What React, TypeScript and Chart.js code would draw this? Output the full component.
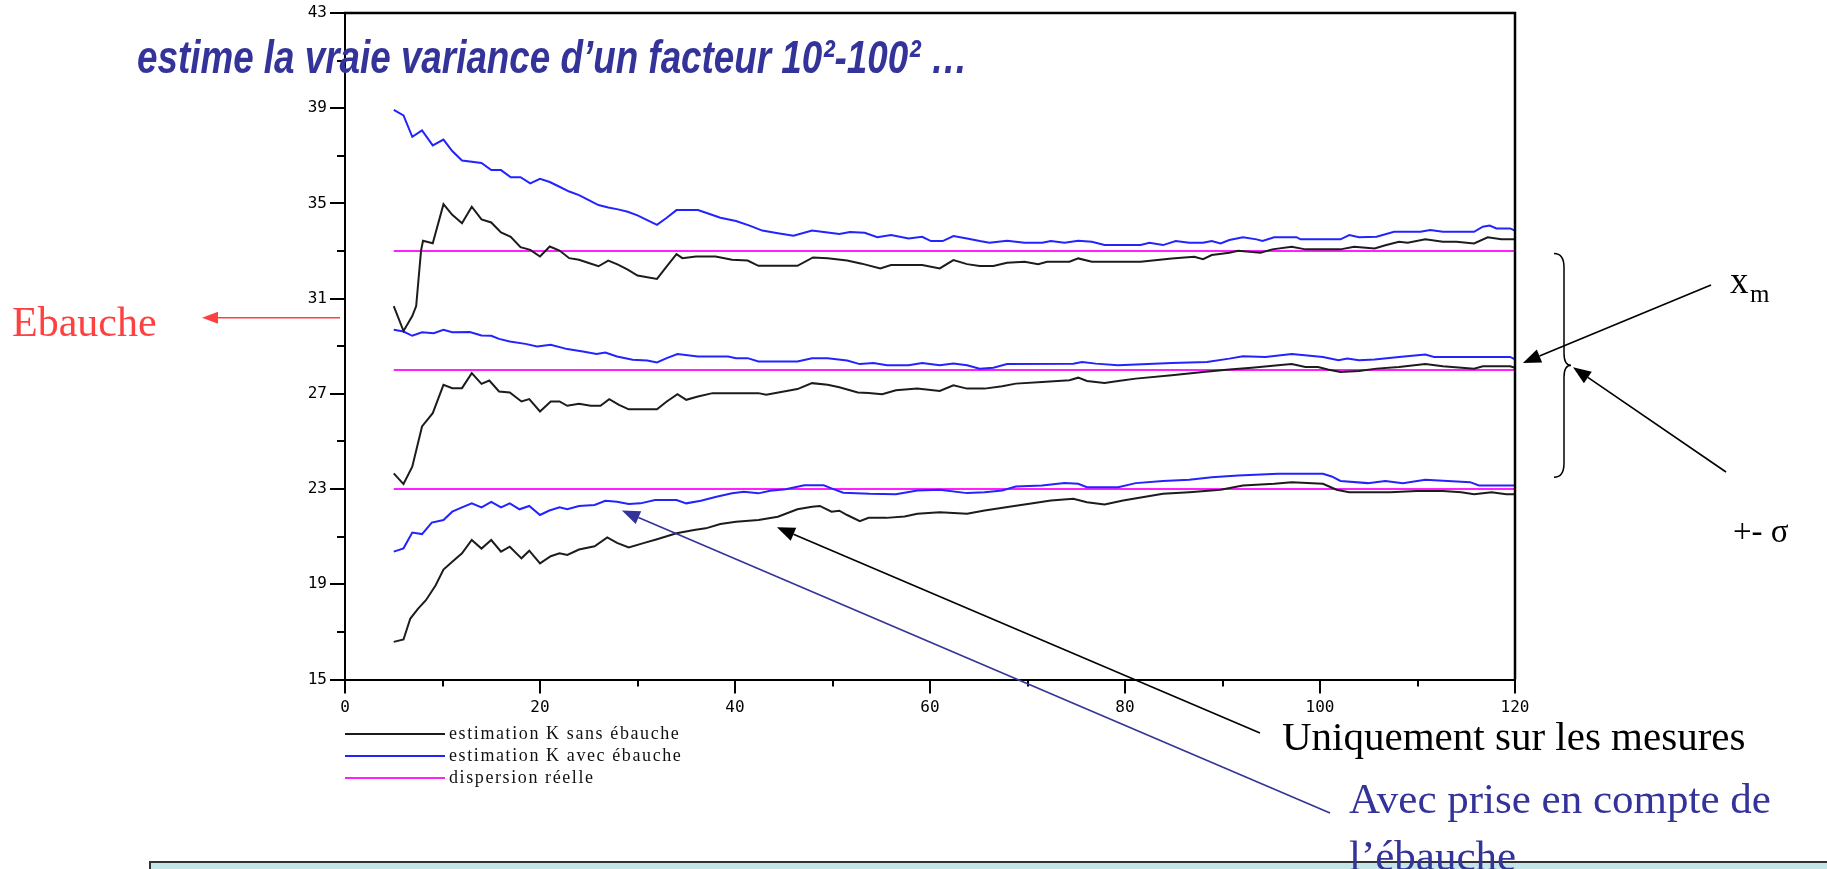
import React, { useEffect, useRef } from "react";
import { Chart, registerables } from "chart.js";

Chart.register(...registerables);

// ---- data: [x, y] pairs ----
const sansUpper: [number, number][] = [
  [5, 30.69], [6, 29.64], [6.9, 30.27], [7.3, 30.69], [7.8, 33.02], [8, 33.43], [9, 33.33], [10.1, 34.97],
  [11, 34.52], [12, 34.17], [13, 34.86], [14, 34.33], [15, 34.2], [16, 33.78], [17, 33.6], [18, 33.16],
  [19, 33.05], [20, 32.77], [21, 33.19], [22, 33.02], [23, 32.7], [24, 32.63], [25, 32.5], [26, 32.36],
  [27, 32.6], [28, 32.43], [29, 32.22], [30, 31.97], [32, 31.83], [33, 32.36], [34, 32.87], [34.6, 32.7],
  [36, 32.77], [38, 32.77], [39.7, 32.63], [41.3, 32.6], [42.4, 32.38], [46.4, 32.38], [48, 32.73],
  [49.5, 32.7], [51.5, 32.6], [53, 32.47], [54.9, 32.27], [56, 32.41], [57.8, 32.41], [59.2, 32.41],
  [61, 32.27], [62.4, 32.62], [63.8, 32.45], [65.1, 32.37], [66.5, 32.37], [67.9, 32.51], [69.7, 32.55],
  [71.1, 32.45], [72, 32.55], [74.3, 32.55], [75.2, 32.69], [76.6, 32.55], [81.6, 32.55], [84.8, 32.69],
  [87.1, 32.76], [88, 32.66], [88.9, 32.83], [90.7, 32.93], [91.6, 33.01], [93.9, 32.93], [95.1, 33.07],
  [97.1, 33.18], [98.5, 33.07], [102.1, 33.07], [103.5, 33.18], [105.6, 33.11], [106.7, 33.24],
  [108.1, 33.39], [109, 33.35], [110.8, 33.49], [112.6, 33.39], [114, 33.39], [115.8, 33.32],
  [117.2, 33.58], [118.6, 33.5], [120, 33.49],
];

const sansMid: [number, number][] = [
  [5, 23.66], [6, 23.21], [6.9, 23.94], [7.9, 25.63], [9, 26.19], [10.1, 27.38], [11, 27.24], [12, 27.24],
  [13, 27.87], [14, 27.42], [14.8, 27.56], [15.8, 27.1], [16.9, 27.06], [18.1, 26.68], [18.9, 26.78],
  [20, 26.26], [21.1, 26.68], [22, 26.68], [22.8, 26.5], [24, 26.58], [25.2, 26.5], [26.2, 26.5],
  [27.1, 26.78], [28.1, 26.54], [29.1, 26.35], [32, 26.35], [33, 26.68], [34.1, 26.99], [35, 26.75],
  [36.2, 26.89], [37.7, 27.03], [42.4, 27.03], [43.2, 26.96], [46.4, 27.2], [47.9, 27.45], [49.5, 27.38],
  [50.7, 27.28], [52.6, 27.06], [53.7, 27.04], [55.1, 26.98], [56.5, 27.15], [58.7, 27.22], [61, 27.12],
  [62.4, 27.36], [63.8, 27.22], [65.6, 27.22], [67.4, 27.32], [68.8, 27.43], [71.5, 27.5], [74.3, 27.57],
  [75.2, 27.68], [76.1, 27.54], [77.9, 27.46], [79.3, 27.54], [81.1, 27.64], [84.8, 27.78], [88, 27.92],
  [90.7, 28.02], [93, 28.1], [95.7, 28.2], [97.1, 28.25], [98.5, 28.13], [99.8, 28.13], [100.8, 28.02],
  [102.1, 27.92], [104, 27.96], [105.8, 28.06], [108.1, 28.13], [110.8, 28.25], [112.6, 28.16],
  [115.8, 28.06], [116.7, 28.16], [119.5, 28.16], [120, 28.1],
];

const sansLow: [number, number][] = [
  [5, 16.58], [6, 16.68], [6.7, 17.56], [7.5, 17.98], [8.3, 18.33], [9.3, 18.96], [10.1, 19.62], [11, 19.95],
  [12, 20.3], [13, 20.86], [14, 20.5], [15, 20.86], [16, 20.37], [16.9, 20.58], [18.1, 20.09], [18.9, 20.41],
  [20, 19.88], [21.1, 20.18], [22, 20.3], [22.8, 20.23], [24, 20.46], [25.6, 20.6], [26.9, 20.97],
  [27.9, 20.74], [29.1, 20.55], [30.7, 20.74], [32, 20.89], [34, 21.14], [35.8, 21.28], [37, 21.35],
  [38.5, 21.53], [40.1, 21.63], [42.4, 21.7], [44.4, 21.84], [46.4, 22.15], [47.9, 22.26], [48.7, 22.29],
  [49.9, 22.05], [50.7, 22.09], [51.5, 21.91], [52.8, 21.65], [53.7, 21.79], [55.5, 21.79], [57.4, 21.85],
  [58.7, 21.96], [61, 22.03], [63.8, 21.96], [65.6, 22.1], [68.3, 22.27], [70.2, 22.38], [72.4, 22.52],
  [74.7, 22.59], [76.1, 22.45], [77.9, 22.35], [79.8, 22.52], [83.9, 22.8], [86.6, 22.87], [89.8, 22.97],
  [92.1, 23.15], [95.3, 23.22], [97.1, 23.29], [100.3, 23.22], [101.7, 22.97], [103, 22.87], [107.2, 22.87],
  [109.9, 22.92], [112.6, 22.92], [114.5, 22.87], [115.8, 22.78], [117.6, 22.87], [119.1, 22.78], [120, 22.78],
];

const avecUpper: [number, number][] = [
  [5, 38.93], [6, 38.7], [6.9, 37.8], [7.9, 38.07], [9, 37.44], [10.1, 37.68], [11, 37.2], [12, 36.8],
  [14, 36.7], [15, 36.4], [16, 36.4], [17, 36.1], [18, 36.1], [19, 35.84], [20, 36.03], [21, 35.9],
  [22, 35.7], [23, 35.5], [24, 35.35], [25, 35.14], [26, 34.93], [27, 34.83], [28, 34.75], [29, 34.65],
  [30, 34.5], [31, 34.3], [32, 34.1], [33, 34.4], [34, 34.72], [36.2, 34.72], [37.1, 34.6], [38.5, 34.4],
  [40.1, 34.26], [41.5, 34.07], [42.8, 33.86], [44.4, 33.75], [46, 33.64], [47.9, 33.86], [49.5, 33.78],
  [50.7, 33.72], [51.8, 33.8], [53.3, 33.77], [54.6, 33.58], [56, 33.67], [57.8, 33.53], [59.2, 33.6],
  [60.1, 33.42], [61.3, 33.42], [62.4, 33.63], [63.8, 33.53], [65.1, 33.42], [66.1, 33.35], [67.9, 33.43],
  [69.7, 33.35], [71.5, 33.35], [72.4, 33.42], [73.8, 33.35], [75.2, 33.43], [76.6, 33.39], [77.9, 33.25],
  [81.6, 33.25], [82.5, 33.35], [83.9, 33.25], [85.2, 33.42], [86.6, 33.35], [88, 33.35], [88.9, 33.42],
  [89.8, 33.32], [90.7, 33.46], [92.1, 33.58], [93.5, 33.49], [94.1, 33.42], [95.3, 33.58], [97.6, 33.58],
  [98, 33.49], [102.1, 33.49], [103, 33.67], [104, 33.58], [105.8, 33.6], [107.6, 33.81], [110.3, 33.81],
  [111.3, 33.88], [112.6, 33.81], [115.8, 33.81], [116.7, 34.02], [117.4, 34.07], [118.1, 33.95],
  [119.5, 33.95], [120, 33.86],
];

const avecMid: [number, number][] = [
  [5, 29.69], [6, 29.62], [6.9, 29.44], [7.9, 29.59], [9.1, 29.55], [10.1, 29.69], [11, 29.59], [12.8, 29.6],
  [14, 29.45], [15, 29.44], [15.8, 29.31], [16.9, 29.2], [18.5, 29.1], [19.7, 28.99], [21.1, 29.06],
  [22.8, 28.88], [24.4, 28.78], [25.8, 28.68], [26.7, 28.74], [27.9, 28.57], [29.5, 28.43], [31, 28.4],
  [32, 28.32], [33, 28.5], [34.1, 28.67], [36.2, 28.57], [39.3, 28.57], [40.1, 28.5], [41.3, 28.5],
  [42.4, 28.36], [46.4, 28.36], [47.9, 28.5], [49.5, 28.5], [51.5, 28.4], [52.8, 28.25], [54.2, 28.3],
  [55.6, 28.2], [57.8, 28.2], [59.2, 28.3], [61, 28.2], [62.4, 28.27], [63.8, 28.2], [65.1, 28.06],
  [66.5, 28.1], [67.9, 28.25], [74.7, 28.27], [75.6, 28.34], [77, 28.27], [79.3, 28.2], [84.8, 28.3],
  [88.4, 28.34], [90.7, 28.48], [92.1, 28.58], [94.4, 28.55], [97.1, 28.67], [100.3, 28.55], [101.9, 28.41],
  [102.8, 28.48], [104, 28.41], [105.6, 28.44], [108.1, 28.55], [110.8, 28.65], [111.7, 28.55],
  [119.5, 28.55], [120, 28.45],
];

const avecLow: [number, number][] = [
  [5, 20.37], [6, 20.51], [6.9, 21.17], [7.9, 21.11], [8.9, 21.59], [10.1, 21.7], [11, 22.05], [12, 22.23],
  [13, 22.4], [14, 22.23], [15, 22.46], [16, 22.23], [16.9, 22.4], [17.9, 22.15], [18.9, 22.29], [20, 21.91],
  [20.9, 22.09], [22, 22.23], [22.8, 22.15], [24, 22.29], [25.6, 22.33], [26.7, 22.51], [27.9, 22.47],
  [29.1, 22.37], [30.3, 22.4], [31.8, 22.54], [34, 22.54], [35, 22.4], [36.5, 22.51], [38.1, 22.68],
  [39.7, 22.82], [40.9, 22.89], [42.4, 22.82], [43.6, 22.93], [45.2, 22.99], [47.1, 23.16], [49.1, 23.16],
  [49.9, 23.03], [51.1, 22.85], [53.8, 22.8], [56.5, 22.78], [58.7, 22.94], [61, 22.97], [63.8, 22.83],
  [65.6, 22.87], [67.4, 22.94], [68.8, 23.11], [71.5, 23.15], [73.8, 23.25], [75.2, 23.22], [76.1, 23.08],
  [79.3, 23.08], [81.1, 23.25], [83.9, 23.34], [86.6, 23.39], [88.9, 23.5], [91.6, 23.57], [95.7, 23.64],
  [100.3, 23.64], [101.2, 23.53], [102.1, 23.34], [104.9, 23.25], [106.7, 23.34], [108.5, 23.25],
  [110.8, 23.39], [113.1, 23.34], [115.4, 23.29], [116.3, 23.15], [120, 23.15],
];

const reelleLevels = [33, 28, 23];
const reelleRange = [5, 120];

const legendLabels = ["estimation K sans ébauche", "estimation K avec ébauche", "dispersion réelle"];
const seriesColors = ["#1c1c1c", "#2323ff", "#ff1fff"];

const xTickValues = [0, 20, 40, 60, 80, 100, 120];
const yTickValues = [15, 19, 23, 27, 31, 35, 39, 43];
const xMinorTicks = [10, 30, 50, 70, 90, 110];
const yMinorTicks = [17, 21, 25, 29, 33, 37, 41];

// annotation anchor values (data space)
const ebaucheValue = 30.2;
const xmTarget = [120.6, 28.3];
const braceRange = [32.9, 28.2, 23.5];
const sansArrowTarget = [44.3, 21.4];
const avecArrowTarget = [28.4, 22.1];

const toPts = (arr: [number, number][]) => arr.map(([x, y]) => ({ x, y }));

function arrow(ctx: CanvasRenderingContext2D, x1: number, y1: number, x2: number, y2: number,
  color: string, lw: number, headLen = 18, headW = 7) {
  const ang = Math.atan2(y2 - y1, x2 - x1);
  const bx = x2 - headLen * Math.cos(ang);
  const by = y2 - headLen * Math.sin(ang);
  ctx.strokeStyle = color;
  ctx.fillStyle = color;
  ctx.lineWidth = lw;
  ctx.beginPath();
  ctx.moveTo(x1, y1);
  ctx.lineTo(bx, by);
  ctx.stroke();
  ctx.beginPath();
  ctx.moveTo(x2, y2);
  ctx.lineTo(bx + headW * Math.sin(ang), by - headW * Math.cos(ang));
  ctx.lineTo(bx - headW * Math.sin(ang), by + headW * Math.cos(ang));
  ctx.closePath();
  ctx.fill();
}

const decorPlugin = {
  id: "decor",
  afterDraw(chart: any) {
    const { ctx, chartArea: a, scales } = chart;
    const xs = scales.x;
    const ys = scales.y;
    ctx.save();
    // frame top & right
    ctx.strokeStyle = "#000";
    ctx.lineWidth = 2.5;
    ctx.beginPath();
    ctx.moveTo(a.left - 1, a.top);
    ctx.lineTo(a.right, a.top);
    ctx.lineTo(a.right, a.bottom);
    ctx.stroke();
    // minor ticks
    ctx.lineWidth = 2;
    for (const v of yMinorTicks) {
      const py = Math.round(ys.getPixelForValue(v));
      ctx.beginPath();
      ctx.moveTo(a.left - 8, py);
      ctx.lineTo(a.left, py);
      ctx.stroke();
    }
    for (const v of xMinorTicks) {
      const px = Math.round(xs.getPixelForValue(v));
      ctx.beginPath();
      ctx.moveTo(px, a.bottom);
      ctx.lineTo(px, a.bottom + 7);
      ctx.stroke();
    }
    // legend
    const rows = [734, 756, 778];
    ctx.font = "18px 'Liberation Serif'";
    (ctx as any).letterSpacing = "1.6px";
    ctx.textBaseline = "alphabetic";
    ctx.textAlign = "left";
    legendLabels.forEach((lab, i) => {
      const y = rows[i];
      ctx.strokeStyle = seriesColors[i];
      ctx.lineWidth = 2;
      ctx.beginPath();
      ctx.moveTo(a.left, y);
      ctx.lineTo(a.left + 100, y);
      ctx.stroke();
      ctx.fillStyle = "#111";
      ctx.fillText(lab, a.left + 104, y + 5);
    });
    (ctx as any).letterSpacing = "0px";

    // Ebauche arrow
    const ye = ys.getPixelForValue(ebaucheValue);
    arrow(ctx, a.left - 5, ye, 202, ye, "#ff4040", 1.5, 16, 6);
    // x_m arrow
    arrow(ctx, 1711, 285, xs.getPixelForValue(xmTarget[0]) + 2, ys.getPixelForValue(xmTarget[1]), "#000", 1.6);
    // brace
    const bx = a.right + 49;
    const yt = ys.getPixelForValue(braceRange[0]);
    const ym = ys.getPixelForValue(braceRange[1]);
    const yb = ys.getPixelForValue(braceRange[2]);
    ctx.strokeStyle = "#000";
    ctx.lineWidth = 1.5;
    ctx.beginPath();
    ctx.moveTo(bx - 10, yt);
    ctx.quadraticCurveTo(bx, yt, bx, yt + 14);
    ctx.lineTo(bx, ym - 12);
    ctx.quadraticCurveTo(bx, ym, bx + 7, ym);
    ctx.quadraticCurveTo(bx, ym, bx, ym + 12);
    ctx.lineTo(bx, yb - 14);
    ctx.quadraticCurveTo(bx, yb, bx - 10, yb);
    ctx.stroke();
    // sigma arrow
    arrow(ctx, 1726, 472, bx + 9, ym + 2, "#000", 1.6);
    // sans ebauche arrow
    arrow(ctx, 1260, 733, xs.getPixelForValue(sansArrowTarget[0]), ys.getPixelForValue(sansArrowTarget[1]), "#000", 1.6);
    // avec ebauche arrow
    arrow(ctx, 1330, 813, xs.getPixelForValue(avecArrowTarget[0]), ys.getPixelForValue(avecArrowTarget[1]), "#333399", 1.6);
    ctx.restore();
  },
};

const serifAsc = 0.8375;
const sansAsc = 0.8465;

function Txt(props: { left: number; baseline: number; size: number; color: string; children: any; style?: any }) {
  const { left, baseline, size, color, children, style } = props;
  return (
    <div
      style={{
        position: "absolute",
        left,
        top: baseline - size * serifAsc,
        fontSize: size,
        lineHeight: 1,
        fontFamily: "'Liberation Serif', 'Times New Roman', serif",
        color,
        whiteSpace: "nowrap",
        ...style,
      }}
    >
      {children}
    </div>
  );
}

export default function App() {
  const ref = useRef<HTMLCanvasElement | null>(null);

  useEffect(() => {
    if (!ref.current) return;
    const common = { pointRadius: 0, borderWidth: 2, tension: 0, fill: false };
    const datasets: any[] = [];
    [sansUpper, sansMid, sansLow].forEach((d, i) =>
      datasets.push({ ...common, label: legendLabels[0] + i, data: toPts(d), borderColor: seriesColors[0] })
    );
    [avecUpper, avecMid, avecLow].forEach((d, i) =>
      datasets.push({ ...common, label: legendLabels[1] + i, data: toPts(d), borderColor: seriesColors[1] })
    );
    reelleLevels.forEach((lv, i) =>
      datasets.push({
        ...common,
        label: legendLabels[2] + i,
        data: reelleRange.map((x) => ({ x, y: lv })),
        borderColor: seriesColors[2],
      })
    );
    const tickFont = { family: "'DejaVu Sans Mono', monospace", size: 16 };
    const chart = new Chart(ref.current, {
      type: "line",
      data: { datasets },
      plugins: [decorPlugin],
      options: {
        animation: false,
        responsive: false,
        devicePixelRatio: 1,
        events: [],
        layout: { padding: { left: 285, top: 13, right: 312, bottom: 149.5 } },
        plugins: { legend: { display: false }, tooltip: { enabled: false }, title: { display: false } },
        scales: {
          x: {
            type: "linear",
            min: 0,
            max: 120,
            afterBuildTicks: (s: any) => { s.ticks = xTickValues.map((v) => ({ value: v })); },
            afterFit: (s: any) => { s.height = 40; },
            ticks: { font: tickFont, color: "#000", padding: 5, maxRotation: 0, autoSkip: false },
            grid: { drawOnChartArea: false, drawTicks: true, tickLength: 14, color: "#000", lineWidth: 2 },
            border: { display: true, color: "#000", width: 2 },
          },
          y: {
            type: "linear",
            min: 15,
            max: 43,
            afterBuildTicks: (s: any) => { s.ticks = yTickValues.map((v) => ({ value: v })); },
            afterFit: (s: any) => { s.width = 60; },
            ticks: { font: tickFont, color: "#000", padding: 3, autoSkip: false },
            grid: { drawOnChartArea: false, drawTicks: true, tickLength: 15, color: "#000", lineWidth: 2 },
            border: { display: true, color: "#000", width: 2 },
          },
        },
      },
    } as any);
    return () => chart.destroy();
  }, []);

  return (
    <div style={{ position: "absolute", left: 0, top: 0, width: 1827, height: 869, overflow: "hidden", background: "#fff" }}>
      <canvas ref={ref} width={1827} height={869} style={{ position: "absolute", left: 0, top: 0 }} />
      <div
        style={{
          position: "absolute",
          left: 137,
          top: 73 - 46 * sansAsc,
          fontSize: 46,
          lineHeight: 1,
          fontFamily: "'Liberation Sans', Arial, sans-serif",
          fontWeight: "bold",
          fontStyle: "italic",
          color: "#333399",
          whiteSpace: "nowrap",
          transform: "scaleX(0.8)",
          transformOrigin: "left top",
        }}
      >
        estime la vraie variance d’un facteur 10²-100² …
      </div>
      <Txt left={12} baseline={336} size={42} color="#ff4040">Ebauche</Txt>
      <Txt left={1730} baseline={293} size={37} color="#000">x</Txt>
      <Txt left={1750} baseline={302} size={25} color="#000">m</Txt>
      <Txt left={1733} baseline={543} size={33} color="#000">+- σ</Txt>
      <Txt left={1282} baseline={750} size={41} color="#000">Uniquement sur les mesures</Txt>
      <div
        style={{
          position: "absolute",
          left: 149,
          top: 861,
          width: 1700,
          height: 30,
          background: "#c4e6e8",
          borderTop: "2px solid #333",
          borderLeft: "2px solid #333",
        }}
      />
      <Txt left={1349} baseline={813} size={43} color="#333399">Avec prise en compte de</Txt>
      <Txt left={1349} baseline={870} size={43} color="#333399">l’ébauche</Txt>
    </div>
  );
}
